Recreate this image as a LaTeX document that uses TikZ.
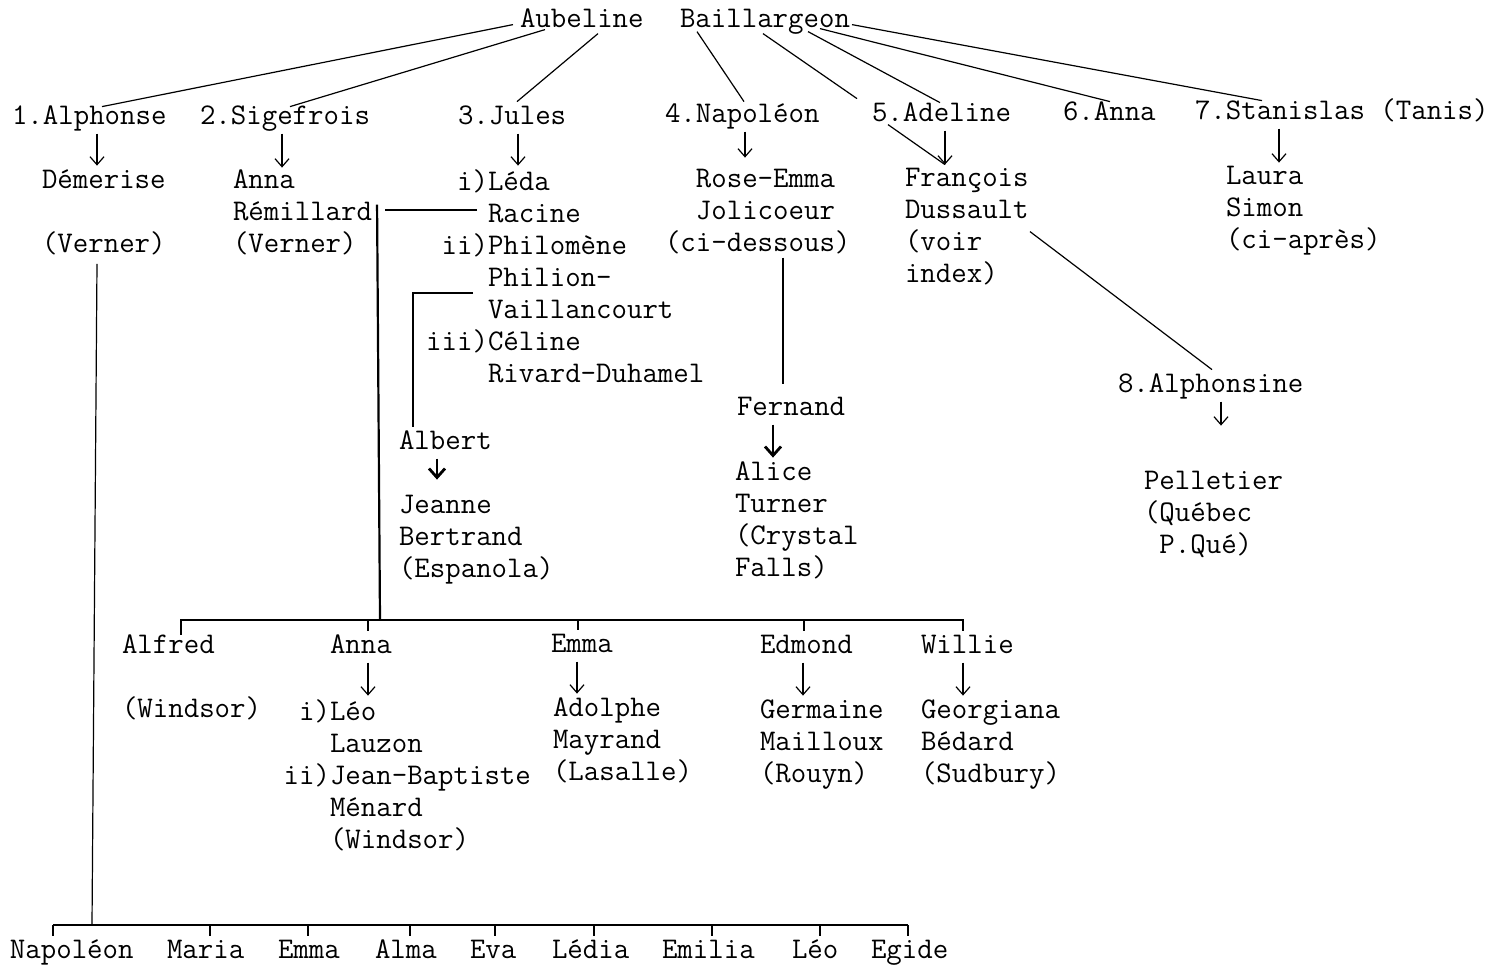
\documentclass[tikz,border=0pt]{standalone}
\usepackage{fontspec}
\usetikzlibrary{arrows.meta,calc}
\begin{document}
\begin{tikzpicture}[x=0.5pt,y=-0.5pt,
  t/.style={anchor=north west,inner sep=0pt,outer sep=0pt,align=left,
    font=\ttfamily\fontsize{15}{16}\selectfont,yshift=11.2pt,execute at begin node=\strut},
  m/.style={t,yshift=-2pt},
  ln/.style={line width=0.6pt},
  vln/.style={line width=1.1pt},
  arr/.style={line width=0.6pt,shorten >=2pt,-{Straight Barb[length=4pt,width=7pt]}},
  barr/.style={line width=1.4pt,shorten >=2pt,-{Straight Barb[length=4.5pt,width=8pt]}},
]
\fill[white] (0,0) rectangle (1510,966);
\useasboundingbox (0,0) rectangle (1510,966);

% ---- top
\node[t] (aub) at (520,27) {Aubeline};
\node[t] (bail) at (680,27) {Baillargeon};

% ---- children of the couple
\node[t] (alph) at (12,124) {1.Alphonse};
\node[t] (sige) at (200,124) {2.Sigefrois};
\node[t] (jules) at (458,124) {3.Jules};
\node[t] (napo) at (665,122) {4.Napoléon};
\node[t] (adel) at (872,121) {5.Adeline};
\node[t] (anna6) at (1063,120) {6.Anna};
\node[t] (stan) at (1195,119) {7.Stanislas (Tanis)};

% ---- spouses
\node[m] (dem) at (42,188) {Démerise\\[16pt](Verner)};
\node[m] (annar) at (233,188) {Anna\\Rémillard\\(Verner)};
\node[m] (wives) at (488,188) {\llap{i)}Léda\\Racine\\\llap{ii)}Philomène\\Philion-\\Vaillancourt\\\llap{iii)}Céline\\Rivard-Duhamel};
\node[m] (rose) at (665,188) {\phantom{xx}Rose-Emma\\\phantom{xx}Jolicoeur\\(ci-dessous)};
\node[m] (fran) at (905,187) {François\\Dussault\\(voir\\index)};
\node[m] (laura) at (1226,185) {Laura\\Simon\\(ci-après)};

\node[t] (alphs) at (1118,392) {8.Alphonsine};
\node[m] (pell) at (1144,490) {Pelletier\\(Québec\\\phantom{x}P.Qué)};
\node[t] (fern) at (737,415) {Fernand};
\node[m] (alice) at (735,480) {Alice\\Turner\\(Crystal\\Falls)};
\node[t] (albert) at (399,449) {Albert};
\node[m] (jeanne) at (399,514) {Jeanne\\Bertrand\\(Espanola)};

% ---- children of Sigefrois
\node[m] (alfred) at (122,653) {Alfred\\[16pt](Windsor)};
\node[t] (anna2) at (330,653) {Anna};
\node[m] (leo) at (330,718) {\llap{i)}Léo\\Lauzon\\\llap{ii)}Jean-Baptiste\\Ménard\\(Windsor)};
\node[t] (emma) at (551,652) {Emma};
\node[m] (adol) at (553,716) {Adolphe\\Mayrand\\(Lasalle)};
\node[t] (edm) at (760,653) {Edmond};
\node[m] (germ) at (760,718) {Germaine\\Mailloux\\(Rouyn)};
\node[t] (will) at (921,653) {Willie};
\node[m] (geo) at (921,718) {Georgiana\\Bédard\\(Sudbury)};

% ---- top connectors
\draw[ln] ($(aub.north west)+(-7,20)$) -- ($(alph.north -| 102,0)+(0,5)$);
\draw[ln] ($(aub.north west)+(25,25)$) -- ($(sige.north -| 290,0)+(0,5)$);
\draw[ln] ($(aub.north west)+(78,29)$) -- ($(jules.north -| 517,0)+(0,0)$);
\draw[ln] ($(bail.north west)+(17,27)$) -- ($(napo.north -| 744,0)+(0,2)$);
\draw[ln] ($(bail.north west)+(83,29)$) -- ($(adel.north west)+(-15,0)$);
\draw[ln] ($(bail.north west)+(128,27)$) -- ($(adel.north -| 940,0)+(0,4)$);
\draw[ln] ($(bail.north west)+(140,24)$) -- ($(anna6.north -| 1110,0)+(0,4)$);
\draw[ln] ($(bail.north west)+(172,20)$) -- ($(stan.north -| 1262,0)+(0,4)$);

% ---- marriage arrows
\draw[arr] (alph.south -| 97,0) -- (dem.north -| 97,0);
\draw[arr] (sige.south -| 282,0) -- ($(annar.north -| 282,0)+(0,2)$);
\draw[arr] (jules.south -| 518,0) -- (wives.north -| 518,0);
\draw[arr] (napo.south -| 745,0) -- ($(rose.north -| 745,0)+(0,-8)$);
\draw[arr] (adel.south -| 945,0) -- (fran.north -| 945,0);
\draw[arr] (stan.south -| 1279,0) -- (laura.north -| 1279,0);
\draw[ln] ($(adel.south west)+(16,-6)$) -- ($(fran.north -| 945,0)+(0,-4)$);
\draw[ln] ($(fran.north west)+(125,63)$) -- (alphs.north -| 1212,0);
\draw[arr] (alphs.south -| 1221,0) -- ($(pell.north -| 1221,0)+(0,-42)$);

% ---- Napoleon -> Fernand
\draw[vln] ($(rose.south -| 783,0)+(0,-4)$) -- ($(fern.north -| 783,0)+(0,-9)$);
\draw[barr] (fern.south -| 773,0) -- (alice.north -| 773,0);

% ---- Jules -> Albert
\draw[ln] ($(wives.west |- 0,293)+(-15,0)$) -| ($(albert.north west)+(14,0)$);
\draw[barr] (albert.south -| 437,0) -- ($(jeanne.north -| 437,0)+(0,-12)$);

% ---- Sigefrois & Anna Remillard -> children
\coordinate (cbL) at (181,620);
\coordinate (cbR) at (963,620);
\draw[ln] ($(wives.west |- 0,210)+(-11,0)$) -- (385,210);
\draw[vln] ($(annar.north east)+(5,35)$) -- (cbL -| 380,0);
\draw[ln] (alfred.north -| cbL) -- (cbL) -- (cbR) -- (will.north -| cbR);
\draw[ln] (anna2.north -| 368,0) -- (cbL -| 368,0);
\draw[ln] (emma.north -| 578,0) -- (cbL -| 578,0);
\draw[ln] (edm.north -| 804,0) -- (cbL -| 804,0);
\draw[arr] (anna2.south -| 368,0) -- (leo.north -| 368,0);
\draw[arr] (emma.south -| 577,0) -- (adol.north -| 577,0);
\draw[arr] (edm.south -| 803,0) -- (germ.north -| 803,0);
\draw[arr] (will.south -| 963,0) -- (geo.north -| 963,0);

% ---- Alphonse & Demerise -> children
\coordinate (barL) at (53,925);
\coordinate (barR) at (908,925);
\draw[ln] (barL) -- (barR);
\foreach \nm/\xx/\tk [count=\i] in {Napoléon/10/53, Maria/167/210, Emma/278/308, Alma/375/410, Eva/470/495, Lédia/552/594, Emilia/662/712, Léo/792/820, Egide/871/908} {
  \node[t] (b\i) at (\xx,958) {\nm};
  \draw[ln] (b\i.north -| \tk,0) -- (barL -| \tk,0);
}
\draw[ln] ($(dem.south -| 97,0)+(0,2)$) -- (barL -| 92,0);
\end{tikzpicture}
\end{document}
